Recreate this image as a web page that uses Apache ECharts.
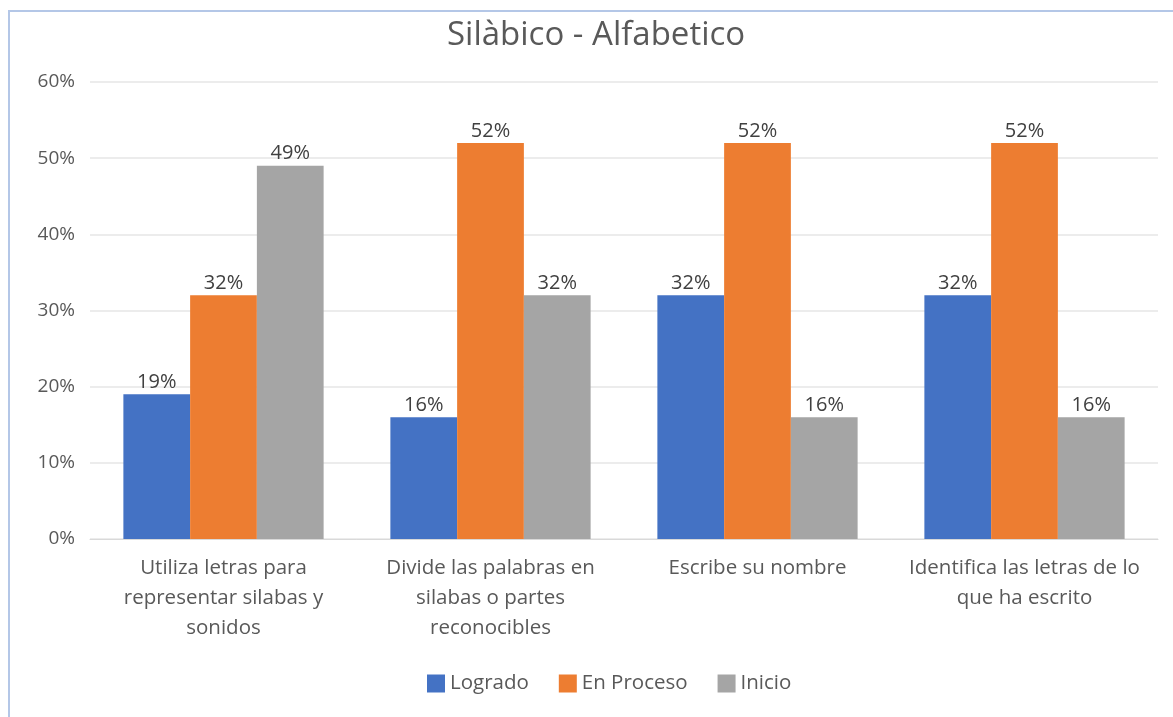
<!DOCTYPE html>
<html>
<head>
<meta charset="utf-8">
<script src="https://cdn.jsdelivr.net/npm/echarts@6/dist/echarts.min.js"></script>
<style>
html,body{margin:0;padding:0;background:#fff;}
#c{width:1173px;height:717px;position:relative;}
#bt{position:absolute;left:8px;top:10px;width:1165px;height:2px;background:#b4c7e7;}
#bl{position:absolute;left:8px;top:10px;width:2px;height:707px;background:#b4c7e7;}
</style>
</head>
<body>
<div id="c"></div>
<div id="bt"></div><div id="bl"></div>
<script>
const categories = [
  "Utiliza letras para\nrepresentar silabas y\nsonidos",
  "Divide las palabras en\nsilabas o partes\nreconocibles",
  "Escribe su nombre",
  "Identifica las letras de lo\nque ha escrito"
];
const seriesNames = ["Logrado", "En Proceso", "Inicio"];
const logrado = [19, 16, 32, 32];
const enProceso = [32, 52, 52, 52];
const inicio = [49, 32, 16, 16];
const yTicks = [0, 10, 20, 30, 40, 50, 60];
const colors = ["#4472c4", "#ed7d31", "#a5a5a5"];

const font = "'Open Sans', 'Liberation Sans', sans-serif";
const chart = echarts.init(document.getElementById('c'));
const mk = (name, data, color) => ({
  name, type: 'bar', data, barGap: '0%', barCategoryGap: '25%',
  itemStyle: {color},
  label: {show: true, position: 'top', formatter: p => p.value + '%', color: '#404040', fontSize: 20, fontFamily: font, distance: 2}
});
chart.setOption({
  animation: false,
  title: {text: 'Silàbico - Alfabetico', left: 442, top: 14, textStyle: {color: '#595959', fontSize: 33, fontWeight: 'normal', fontFamily: font}},
  legend: {bottom: 18, left: 422, itemWidth: 18, itemHeight: 18, itemGap: 30, icon: 'rect',
    textStyle: {color: '#595959', fontSize: 20.5, fontFamily: font}},
  grid: {left: 90, right: 15, top: 82, bottom: 178},
  xAxis: {type: 'category', data: categories,
    axisLine: {lineStyle: {color: '#d9d9d9'}}, axisTick: {show: false},
    axisLabel: {color: '#595959', fontSize: 20.5, fontFamily: font, lineHeight: 30, margin: 14, interval: 0}},
  yAxis: {type: 'value', min: yTicks[0], max: yTicks[yTicks.length-1], interval: 10,
    axisLabel: {formatter: v => v + '%', color: '#595959', fontSize: 19, fontFamily: font, margin: 15},
    splitLine: {lineStyle: {color: '#e6e6e6', width: 1.5}}, axisLine: {show: false}, axisTick: {show: false}},
  series: [mk(seriesNames[0], logrado, colors[0]), mk(seriesNames[1], enProceso, colors[1]), mk(seriesNames[2], inicio, colors[2])]
});
</script>
</body>
</html>
